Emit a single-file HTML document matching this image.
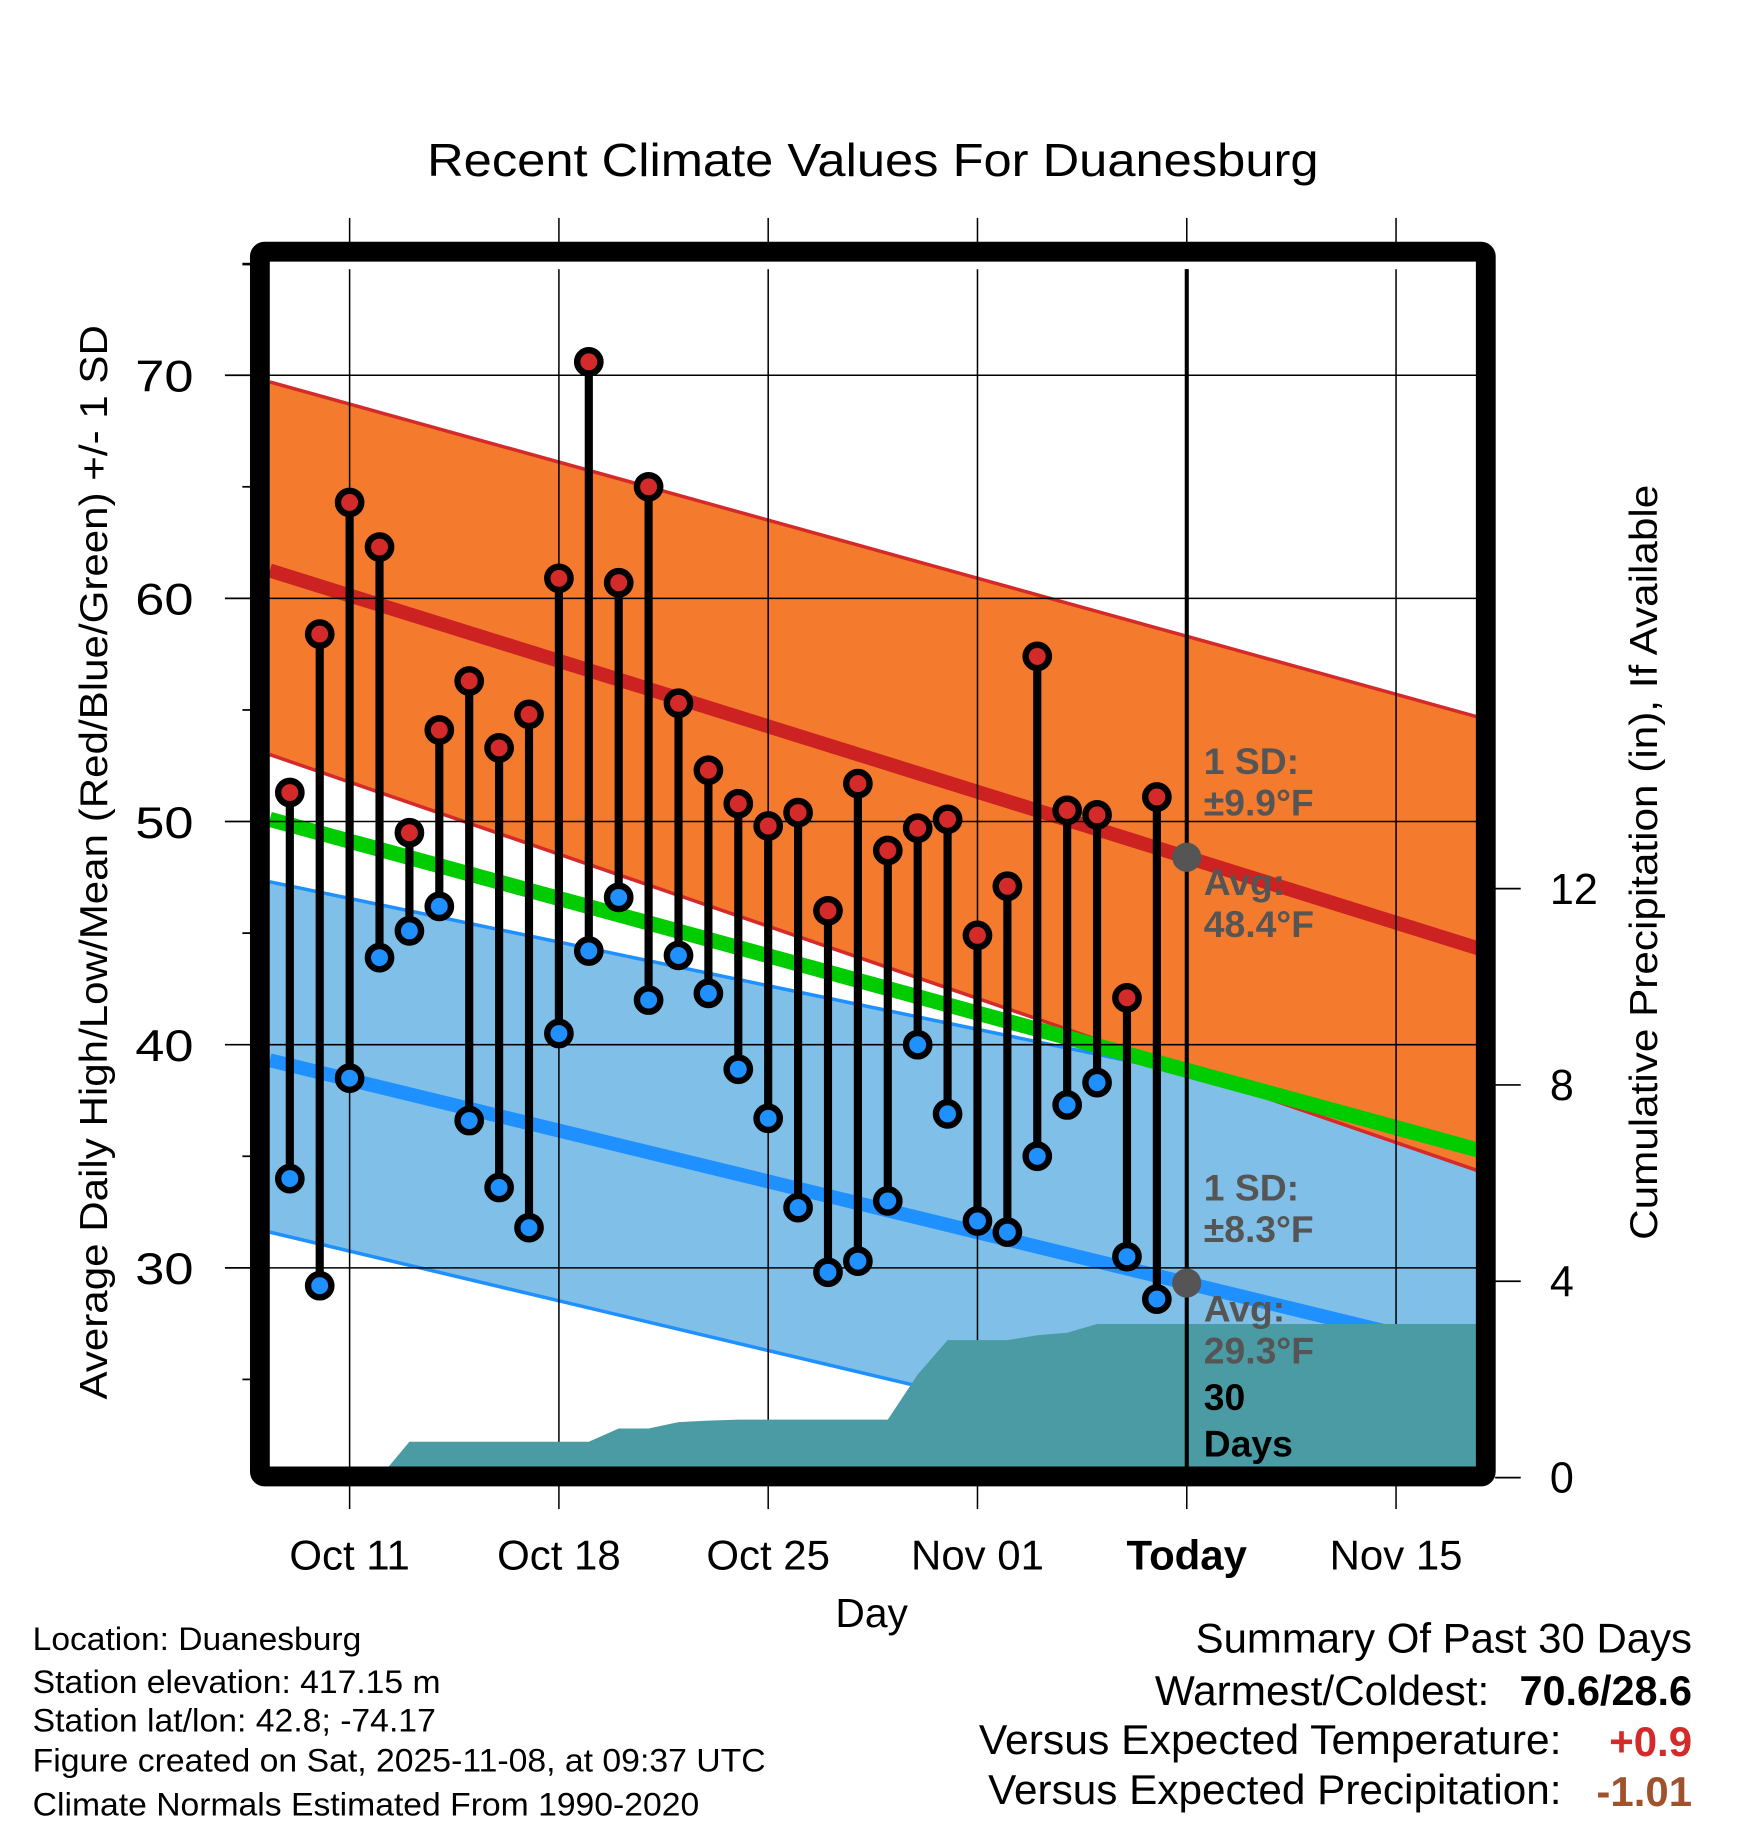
<!DOCTYPE html>
<html><head><meta charset="utf-8"><style>
html,body{margin:0;padding:0;background:#fff}
svg{display:block;font-family:"Liberation Sans",sans-serif}
</style></head><body>
<svg id="chart" width="1748" height="1828" viewBox="0 0 1500 1568.7" xmlns="http://www.w3.org/2000/svg">
<defs><clipPath id="clip"><rect x="231" y="231" width="1037" height="1029"/></clipPath></defs>
<text x="749" y="151" font-size="40" text-anchor="middle" textLength="765" lengthAdjust="spacingAndGlyphs">Recent Climate Values For Duanesburg</text>
<g id="plot" clip-path="url(#clip)"></g>
<g id="over"></g>
</svg>
<script>
// ---- data ----
const dayLabels = ["Oct 11","Oct 18","Oct 25","Nov 01","Today","Nov 15"];
const dayTicks = [3,10,17,24,31,38]; // day index from Oct 8
const obsDays = [1,2,3,4,5,6,7,8,9,10,11,12,13,14,15,16,17,18,19,20,21,22,23,24,25,26,27,28,29,30];
const highs = [51.3,58.4,64.3,62.3,49.5,54.1,56.3,53.3,54.8,60.9,70.6,60.7,65.0,55.3,52.3,50.8,49.8,50.4,46.0,51.7,48.7,49.7,50.1,44.9,47.1,57.4,50.5,50.3,42.1,51.1];
const lows = [34.0,29.2,38.5,43.9,45.1,46.2,36.6,33.6,31.8,40.5,44.2,46.6,42.0,44.0,42.3,38.9,36.7,32.7,29.8,30.3,33.0,40.0,36.9,32.1,31.6,35.0,37.3,38.3,30.5,28.6];
const precipCum = [0,0,0,0,0.73,0.73,0.73,0.73,0.73,0.73,0.73,1.0,1.0,1.13,1.16,1.18,1.18,1.18,1.18,1.18,1.18,2.1,2.8,2.8,2.8,2.9,2.95,3.13,3.13,3.13];
const normDays = [0.33,41.5];
const avgHigh = [61.25,44.0];
const highUpper = [69.7,54.4];
const highLower = [53.0,34.0];
const avgMean = [50.1,35.0];
const avgLow = [39.3,25.9];
const lowUpper = [47.3,35.8];
const lowLower = [31.6,18.5];
const leftTicks = [30,40,50,60,70];
const rightTicks = [0,4,8,12];

// ---- scales ----
const X = d => 300 + (d-3)*25.657;
const Y = v => 322 + (70-v)*19.15;
const P = p => 1268 - p*42.12;
const NS="http://www.w3.org/2000/svg";
const plot=document.getElementById('plot'), over=document.getElementById('over');
function mk(parent,tag,attrs,text){const e=document.createElementNS(NS,tag);for(const k in attrs)e.setAttribute(k,attrs[k]);if(text!==undefined)e.textContent=text;parent.appendChild(e);return e;}
function band(up,lo,fill,name){
  const d=`M${X(normDays[0])},${Y(up[0])}L${X(normDays[1])},${Y(up[1])}L${X(normDays[1])},${Y(lo[1])}L${X(normDays[0])},${Y(lo[0])}Z`;
  const e=mk(plot,'path',{d:d,fill:fill});
  
  
}
function line(arr,color,w,name){
  const e=mk(plot,'line',{x1:X(normDays[0]),y1:Y(arr[0]),x2:X(normDays[1]),y2:Y(arr[1]),stroke:color,'stroke-width':w});
  
  
}
band(lowUpper,lowLower,'#80c0e8','low-sd-band');
line(lowUpper,'#1e90ff',3,'low-upper-sd-line');
line(lowLower,'#1e90ff',3,'low-lower-sd-line');
band(highUpper,highLower,'#f47a2e','high-sd-band');
line(highUpper,'#d42a2a',3,'high-upper-sd-line');
line(highLower,'#d42a2a',3,'high-lower-sd-line');
line(avgHigh,'#cc2222',12,'avg-high-line');
line(avgMean,'#00cc00',13,'avg-mean-line');
line(avgLow,'#1e90ff',12,'avg-low-line');
// gridlines
leftTicks.forEach(v=>{const e=mk(plot,'line',{x1:231,x2:1268,y1:Y(v),y2:Y(v),stroke:'#000','stroke-width':1.3});
  
  });
dayTicks.forEach(d=>{const e=mk(plot,'line',{x1:X(d),x2:X(d),y1:231,y2:1260,stroke:'#000','stroke-width':1.3});
  
  });
// precip area
let pd=`M${X(obsDays[0])},${P(0)}`;
obsDays.forEach((d,i)=>{pd+=`L${X(d)},${P(precipCum[i])}`;});
pd+=`L1270,${P(precipCum[precipCum.length-1])}L1270,1262L${X(obsDays[0])},1262Z`;
const pa=mk(plot,'path',{d:pd,fill:'#4a9ba3'});


// stems and markers
obsDays.forEach((d,i)=>{
  const s=mk(plot,'line',{x1:X(d),x2:X(d),y1:Y(highs[i]),y2:Y(lows[i]),stroke:'#000','stroke-width':7});
  
  
});
obsDays.forEach((d,i)=>{
  const h=mk(plot,'circle',{cx:X(d),cy:Y(highs[i]),r:10,fill:'#d42a2a',stroke:'#000','stroke-width':5.5});
  
  
  const l=mk(plot,'circle',{cx:X(d),cy:Y(lows[i]),r:10,fill:'#1e90ff',stroke:'#000','stroke-width':5.5});
  
  
});
// today line & dots
const tx=X(31);
const tl=mk(plot,'line',{x1:tx,x2:tx,y1:222,y2:1262,stroke:'#000','stroke-width':3.5});


const tAvgH=avgHigh[0]+(avgHigh[1]-avgHigh[0])*(31-normDays[0])/(normDays[1]-normDays[0]);
const tAvgL=avgLow[0]+(avgLow[1]-avgLow[0])*(31-normDays[0])/(normDays[1]-normDays[0]);
const d1=mk(plot,'circle',{cx:tx,cy:Y(tAvgH),r:12.5,fill:'#555'});


const d2=mk(plot,'circle',{cx:tx,cy:Y(tAvgL),r:12.5,fill:'#555'});


// annotations
const ann=[["1 SD:",664,'#555'],["±9.9°F",700,'#555'],["Avg:",768,'#555'],["48.4°F",804,'#555'],["1 SD:",1030,'#555'],["±8.3°F",1066,'#555'],["Avg:",1134,'#555'],["29.3°F",1170,'#555'],["30",1210,'#000'],["Days",1250,'#000']];
ann.forEach(a=>{const t=mk(plot,'text',{x:1033,y:a[1],'font-size':32,'font-weight':'bold',fill:a[2]},a[0]);
  
  });
// frame
const fr=mk(over,'rect',{x:223,y:216,width:1052,height:1051,fill:'none',stroke:'#000','stroke-width':17,rx:4});


// left axis ticks
leftTicks.forEach(v=>{
  const t=mk(over,'line',{x1:193,x2:215,y1:Y(v),y2:Y(v),stroke:'#000','stroke-width':1.5});
  
  
  const l=mk(over,'text',{x:166,y:Y(v)+14,'font-size':38,'text-anchor':'end','textLength':50,'lengthAdjust':'spacingAndGlyphs'},String(v));
  
  
});
[25,35,45,55,65,75].forEach(v=>{if(Y(v)<225)return;
  const t=mk(over,'line',{x1:208,x2:215,y1:Y(v),y2:Y(v),stroke:'#000','stroke-width':1.5});
  
  });
const mt=mk(over,'line',{x1:208,x2:215,y1:227,y2:227,stroke:'#000','stroke-width':1.5});


// right axis
rightTicks.forEach(p=>{
  const t=mk(over,'line',{x1:1283,x2:1305,y1:P(p),y2:P(p),stroke:'#000','stroke-width':1.5});
  
  
  const l=mk(over,'text',{x:1330,y:P(p)+13,'font-size':37},String(p));
  
  
});
// x ticks
dayTicks.forEach((d,i)=>{
  const a=mk(over,'line',{x1:X(d),x2:X(d),y1:187,y2:208,stroke:'#000','stroke-width':1.3});
  
  
  const b=mk(over,'line',{x1:X(d),x2:X(d),y1:1275,y2:1295,stroke:'#000','stroke-width':1.3});
  
  
  const l=mk(over,'text',{x:X(d),y:1347,'font-size':36,'text-anchor':'middle','font-weight':dayLabels[i]==='Today'?'bold':'normal'},dayLabels[i]);
  
  
});
</script>
<svg style="position:absolute;left:0;top:0" width="1748" height="1828" viewBox="0 0 1500 1568.7" xmlns="http://www.w3.org/2000/svg" font-family="Liberation Sans, sans-serif">
<text x="748" y="1396" font-size="35" text-anchor="middle">Day</text>
<text transform="translate(92,740) rotate(-90)" font-size="33" text-anchor="middle" textLength="922" lengthAdjust="spacingAndGlyphs">Average Daily High/Low/Mean (Red/Blue/Green) +/- 1 SD</text>
<text transform="translate(1422,740) rotate(-90)" font-size="33" text-anchor="middle" textLength="648" lengthAdjust="spacingAndGlyphs">Cumulative Precipitation (in), If Available</text>
<g font-size="28">
<text x="28" y="1416" textLength="282" lengthAdjust="spacingAndGlyphs">Location: Duanesburg</text>
<text x="28" y="1453" textLength="350" lengthAdjust="spacingAndGlyphs">Station elevation: 417.15 m</text>
<text x="28" y="1486" textLength="346" lengthAdjust="spacingAndGlyphs">Station lat/lon: 42.8; -74.17</text>
<text x="28" y="1520" textLength="629" lengthAdjust="spacingAndGlyphs">Figure created on Sat, 2025-11-08, at 09:37 UTC</text>
<text x="28" y="1558" textLength="572" lengthAdjust="spacingAndGlyphs">Climate Normals Estimated From 1990-2020</text>
</g>
<g font-size="36" text-anchor="end">
<text x="1452" y="1418" textLength="426" lengthAdjust="spacingAndGlyphs">Summary Of Past 30 Days</text>
<text x="1278" y="1463" textLength="287" lengthAdjust="spacingAndGlyphs">Warmest/Coldest:</text>
<text x="1452" y="1463" font-weight="bold" textLength="148" lengthAdjust="spacingAndGlyphs">70.6/28.6</text>
<text x="1340" y="1505" textLength="500" lengthAdjust="spacingAndGlyphs">Versus Expected Temperature:</text>
<text x="1452" y="1507" font-weight="bold" fill="#d42a2a">+0.9</text>
<text x="1340" y="1548" textLength="492" lengthAdjust="spacingAndGlyphs">Versus Expected Precipitation:</text>
<text x="1452" y="1550" font-weight="bold" fill="#a0522d">-1.01</text>
</g>
</svg>
</body></html>
